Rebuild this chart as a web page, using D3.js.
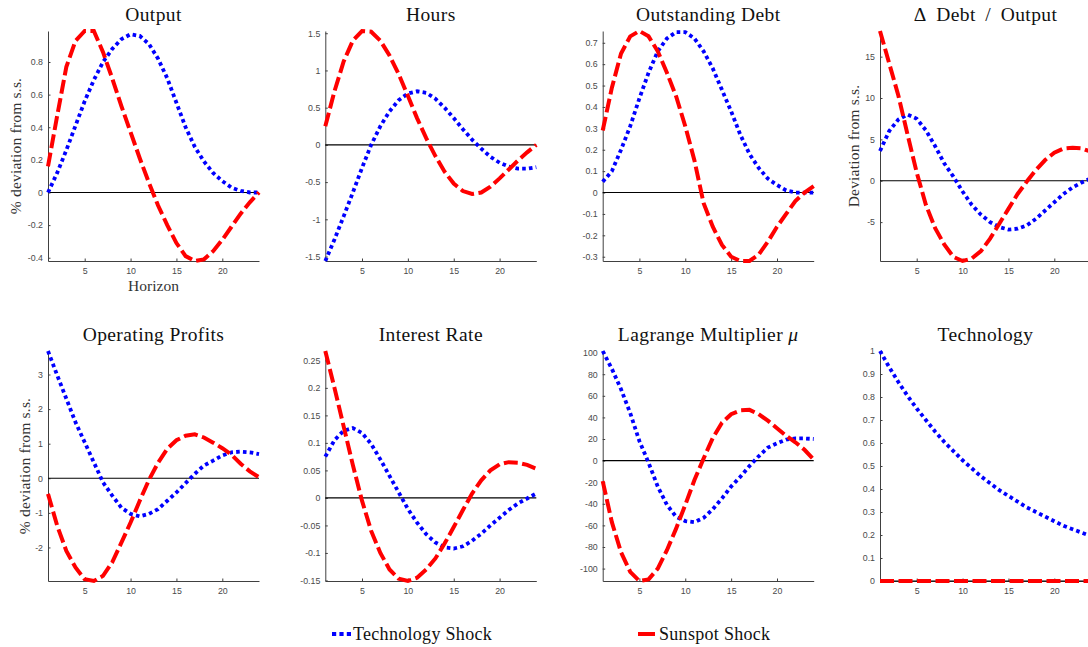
<!DOCTYPE html>
<html>
<head>
<meta charset="utf-8">
<script src="https://cdn.jsdelivr.net/npm/d3@7"></script>
<style>
  html, body { margin: 0; padding: 0; background: #fff; }
  svg { display: block; }
</style>
</head>
<body>
<svg id="chart" width="1088" height="647"></svg>
<script>
// ---------------- data ----------------
const horizon = [1,2,3,4,5,6,7,8,9,10,11,12,13,14,15,16,17,18,19,20,21,22,23,24];
const xTicks = [5, 10, 15, 20];

const panelTitles = ["Output", "Hours", "Outstanding Debt", "\u0394\u00A0\u2009Debt\u00A0\u2009/\u00A0\u2009Output",
                     "Operating Profits", "Interest Rate", "Lagrange Multiplier ", "Technology"];
const titleMath = [null, null, null, null, null, null, "\u03BC", null];
const seriesNames = ["Technology Shock", "Sunspot Shock"];

const yTicksOutput = [-0.4, -0.2, 0, 0.2, 0.4, 0.6, 0.8];
const yTicksHours = [-1.5, -1, -0.5, 0, 0.5, 1, 1.5];
const yTicksDebt = [-0.3, -0.2, -0.1, 0, 0.1, 0.2, 0.3, 0.4, 0.5, 0.6, 0.7];
const yTicksDDebt = [-5, 0, 5, 10, 15];
const yTicksProfits = [-2, -1, 0, 1, 2, 3];
const yTicksRate = [-0.15, -0.1, -0.05, 0, 0.05, 0.1, 0.15, 0.2, 0.25];
const yTicksMu = [-100, -80, -60, -40, -20, 0, 20, 40, 60, 80, 100];
const yTicksTech = [0, 0.1, 0.2, 0.3, 0.4, 0.5, 0.6, 0.7, 0.8, 0.9, 1];

const techOutput = [0.00,0.12,0.26,0.41,0.56,0.69,0.80,0.88,0.94,0.97,0.96,0.91,0.82,0.70,0.55,0.40,0.28,0.19,0.12,0.07,0.03,0.01,0.00,0.00];
const sunOutput  = [0.16,0.47,0.77,0.93,0.99,0.99,0.86,0.70,0.53,0.37,0.21,0.06,-0.08,-0.20,-0.31,-0.39,-0.42,-0.41,-0.36,-0.29,-0.21,-0.13,-0.06,0.00];

const techHours = [-1.56,-1.27,-0.96,-0.64,-0.31,0.00,0.25,0.45,0.60,0.69,0.72,0.70,0.62,0.50,0.36,0.21,0.07,-0.05,-0.16,-0.24,-0.29,-0.32,-0.32,-0.30];
const sunHours  = [0.25,0.72,1.12,1.40,1.53,1.52,1.40,1.20,0.95,0.66,0.36,0.09,-0.15,-0.36,-0.52,-0.62,-0.66,-0.64,-0.56,-0.45,-0.33,-0.21,-0.10,0.00];

const techDebt = [0.05,0.10,0.20,0.31,0.44,0.56,0.66,0.72,0.75,0.75,0.72,0.66,0.58,0.48,0.38,0.27,0.18,0.115,0.065,0.035,0.01,0.00,0.00,0.00];
const sunDebt  = [0.29,0.49,0.65,0.73,0.755,0.73,0.66,0.56,0.45,0.31,0.15,-0.05,-0.16,-0.245,-0.30,-0.32,-0.32,-0.29,-0.23,-0.16,-0.10,-0.04,0.00,0.03];

const techDDebt = [3.6,6.0,7.4,8.0,7.5,6.1,4.2,2.1,0.5,-1.3,-2.9,-4.1,-5.0,-5.6,-5.9,-5.8,-5.4,-4.6,-3.6,-2.6,-1.6,-0.8,-0.2,0.3];
const sunDDebt  = [18.1,14.2,10.3,5.6,1.0,-2.9,-5.7,-7.7,-9.2,-9.7,-9.4,-8.5,-7.0,-5.2,-3.4,-1.6,-0.1,1.3,2.5,3.4,3.9,4.0,3.9,3.5];

const techProfits = [3.68,2.98,2.30,1.62,1.04,0.46,-0.12,-0.50,-0.85,-1.03,-1.10,-1.03,-0.89,-0.65,-0.41,-0.14,0.13,0.37,0.51,0.66,0.75,0.77,0.75,0.70];
const sunProfits  = [-0.45,-1.37,-2.10,-2.58,-2.92,-2.97,-2.82,-2.43,-1.86,-1.28,-0.65,-0.05,0.45,0.85,1.10,1.23,1.27,1.18,1.03,0.87,0.68,0.42,0.20,0.03];

const techRate = [0.075,0.105,0.122,0.127,0.118,0.098,0.070,0.040,0.010,-0.020,-0.045,-0.066,-0.081,-0.090,-0.092,-0.088,-0.078,-0.065,-0.050,-0.036,-0.022,-0.010,-0.001,0.008];
const sunRate  = [0.267,0.20,0.13,0.06,-0.005,-0.06,-0.10,-0.13,-0.147,-0.151,-0.145,-0.13,-0.11,-0.083,-0.053,-0.022,0.008,0.032,0.050,0.061,0.065,0.064,0.060,0.053];

const techMu = [101.5,85,66,44,18,-2,-24,-41,-52,-56,-57,-53,-45,-35,-24,-15,-5,4,12,16,19.5,20.5,20.5,20];
const sunMu  = [-19,-57,-85,-103,-111.5,-110,-100,-83,-63,-41,-18,2,21,35,43,46.5,47,43,37,30,23,17,10,1];

const techTech = [1.00,0.93,0.865,0.805,0.75,0.70,0.65,0.605,0.565,0.525,0.49,0.455,0.425,0.395,0.37,0.345,0.32,0.30,0.28,0.26,0.24,0.225,0.21,0.195];
const sunTech  = [0,0,0,0,0,0,0,0,0,0,0,0,0,0,0,0,0,0,0,0,0,0,0,0];

const techSeries = [techOutput, techHours, techDebt, techDDebt, techProfits, techRate, techMu, techTech];
const sunSeries  = [sunOutput, sunHours, sunDebt, sunDDebt, sunProfits, sunRate, sunMu, sunTech];
const yTickSets  = [yTicksOutput, yTicksHours, yTicksDebt, yTicksDDebt, yTicksProfits, yTicksRate, yTicksMu, yTicksTech];
const yLabels    = ["% deviation from s.s.", null, null, "Deviation from s.s.", "% deviation from s.s.", null, null, null];

// ---------------- layout ----------------
const colLeft = [48, 325.3, 602.7, 880];
const plotW = 211;
const rowTop = [31, 351];
const plotH = 230;
const yLabelX = [21, null, null, 859, 30, null, null, null];

const BLUE = "#0000ff", RED = "#ff0000";
const serif = "'Liberation Serif', 'Times New Roman', serif";
const sans = "'Liberation Sans', Arial, Helvetica, sans-serif";

const svg = d3.select("#chart");

panelTitles.forEach((title, i) => {
  const col = i % 4, row = Math.floor(i / 4);
  const left = colLeft[col], top = rowTop[row];
  const tech = techSeries[i], sun = sunSeries[i];
  const ext = d3.extent(tech.concat(sun));

  const x = d3.scaleLinear().domain([horizon[0], horizon[horizon.length - 1]]).range([left, left + plotW]);
  const y = d3.scaleLinear().domain(ext).range([top + plotH, top]);

  const g = svg.append("g");

  const yAxis = d3.axisLeft(y).tickValues(yTickSets[i]).tickSizeInner(-2.5).tickSizeOuter(0).tickPadding(5)
    .tickFormat(v => String(v));
  const xAxis = d3.axisBottom(x).tickValues(xTicks).tickSizeInner(-2.5).tickSizeOuter(0).tickPadding(7)
    .tickFormat(v => String(v));

  const gy = g.append("g").attr("transform", `translate(${left},0)`).call(yAxis);
  const gx = g.append("g").attr("transform", `translate(0,${top + plotH})`).call(xAxis);
  [gx, gy].forEach(a => {
    a.select(".domain").attr("stroke", "#404040").attr("stroke-width", 1);
    a.selectAll(".tick line").attr("stroke", "#404040");
    a.selectAll(".tick text").attr("fill", "#4a4a4a").style("font-family", sans).style("font-size", "8.8px");
  });

  g.append("line")
    .attr("x1", x(horizon[0])).attr("x2", x(horizon[horizon.length - 1]))
    .attr("y1", y(0)).attr("y2", y(0))
    .attr("stroke", "#000").attr("stroke-width", 1.1);

  const line = d3.line().x((d, k) => x(horizon[k])).y(d => y(d));

  g.append("path").datum(tech).attr("d", line)
    .attr("fill", "none").attr("stroke", BLUE).attr("stroke-width", 3.8)
    .attr("stroke-dasharray", "3.6,3.2");
  g.append("path").datum(sun).attr("d", line)
    .attr("fill", "none").attr("stroke", RED).attr("stroke-width", 4)
    .attr("stroke-dasharray", "14,4.5");

  const t = g.append("text").attr("x", left + plotW / 2).attr("y", top - 10)
    .attr("text-anchor", "middle").style("font-family", serif).style("font-size", "19.5px")
    .style("letter-spacing", "0.4px").attr("fill", "#111");
  t.append("tspan").text(title);
  if (titleMath[i]) t.append("tspan").style("font-style", "italic").text(titleMath[i]);

  if (yLabels[i]) {
    g.append("text")
      .attr("transform", `translate(${yLabelX[i]},${top + plotH / 2}) rotate(-90)`)
      .attr("text-anchor", "middle").style("font-family", serif).style("font-size", "15.5px")
      .style("letter-spacing", "0.2px").attr("fill", "#333").text(yLabels[i]);
  }
  if (i === 0) {
    g.append("text").attr("x", left + plotW / 2).attr("y", top + plotH + 30)
      .attr("text-anchor", "middle").style("font-family", serif).style("font-size", "15.5px")
      .attr("fill", "#333").text("Horizon");
  }
});

// legend
const leg = svg.append("g");
leg.append("line").attr("x1", 332).attr("x2", 353).attr("y1", 634).attr("y2", 634)
  .attr("stroke", BLUE).attr("stroke-width", 3.8).attr("stroke-dasharray", "4.2,3.2");
leg.append("text").attr("x", 353).attr("y", 640).style("font-family", serif).style("font-size", "18px")
  .style("letter-spacing", "0.3px").attr("fill", "#111").text(seriesNames[0]);
leg.append("line").attr("x1", 638).attr("x2", 655).attr("y1", 634).attr("y2", 634)
  .attr("stroke", RED).attr("stroke-width", 4);
leg.append("text").attr("x", 659).attr("y", 640).style("font-family", serif).style("font-size", "18px")
  .style("letter-spacing", "0.3px").attr("fill", "#111").text(seriesNames[1]);
</script>
</body>
</html>
